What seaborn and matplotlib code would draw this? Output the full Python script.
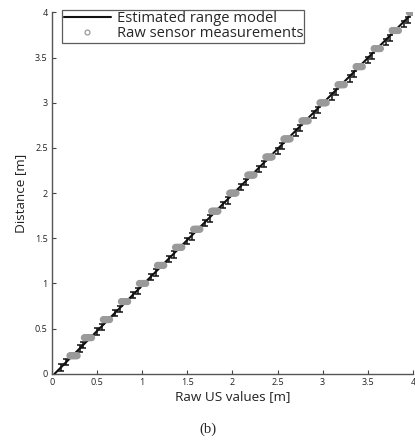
import matplotlib
matplotlib.use("Agg")
import matplotlib.pyplot as plt
import seaborn as sns
import pandas as pd
from matplotlib.lines import Line2D

# ---- data ----
distances = [0.2, 0.4, 0.6, 0.8, 1.0, 1.2, 1.4, 1.6, 1.8, 2.0,
             2.2, 2.4, 2.6, 2.8, 3.0, 3.2, 3.4, 3.6, 3.8, 4.0]
raw_readings = [
    [0.20, 0.21, 0.22, 0.23, 0.24, 0.25, 0.26, 0.27, 0.28],
    [0.36, 0.37, 0.38, 0.39, 0.40, 0.41, 0.42, 0.43, 0.44],
    [0.57, 0.58, 0.59, 0.60, 0.61, 0.62, 0.63, 0.64],
    [0.77, 0.78, 0.79, 0.80, 0.81, 0.82, 0.83, 0.84],
    [0.97, 0.98, 0.99, 1.00, 1.01, 1.02, 1.03, 1.04],
    [1.17, 1.18, 1.19, 1.20, 1.21, 1.22, 1.23, 1.24],
    [1.37, 1.38, 1.39, 1.40, 1.41, 1.42, 1.43, 1.44],
    [1.57, 1.58, 1.59, 1.60, 1.61, 1.62, 1.63, 1.64],
    [1.77, 1.78, 1.79, 1.80, 1.81, 1.82, 1.83, 1.84],
    [1.97, 1.98, 1.99, 2.00, 2.01, 2.02, 2.03, 2.04],
    [2.17, 2.18, 2.19, 2.20, 2.21, 2.22, 2.23, 2.24],
    [2.37, 2.38, 2.39, 2.40, 2.41, 2.42, 2.43, 2.44],
    [2.57, 2.58, 2.59, 2.60, 2.61, 2.62, 2.63, 2.64],
    [2.77, 2.78, 2.79, 2.80, 2.81, 2.82, 2.83, 2.84],
    [2.97, 2.98, 2.99, 3.00, 3.01, 3.02, 3.03, 3.04],
    [3.17, 3.18, 3.19, 3.20, 3.21, 3.22, 3.23, 3.24],
    [3.37, 3.38, 3.39, 3.40, 3.41, 3.42, 3.43, 3.44],
    [3.57, 3.58, 3.59, 3.60, 3.61, 3.62, 3.63, 3.64],
    [3.77, 3.78, 3.79, 3.80, 3.81, 3.82, 3.83, 3.84],
    [3.96, 3.97, 3.98, 3.99, 4.00, 4.01, 4.02, 4.03],
]
model_x = [0.03, 4.0]
model_y = [0.0, 4.0]
errbar_x = [0.10, 0.16, 0.31, 0.35, 0.50, 0.55, 0.70, 0.75, 0.90, 0.95,
            1.10, 1.15, 1.30, 1.35, 1.50, 1.55, 1.70, 1.75, 1.90, 1.95,
            2.10, 2.15, 2.30, 2.35, 2.50, 2.55, 2.70, 2.75, 2.90, 2.95,
            3.10, 3.15, 3.30, 3.35, 3.50, 3.55, 3.70, 3.75, 3.90, 3.95]
errbar_y = [0.07, 0.13, 0.28, 0.32, 0.47, 0.52, 0.67, 0.72, 0.87, 0.92,
            1.07, 1.12, 1.27, 1.32, 1.47, 1.52, 1.67, 1.72, 1.87, 1.92,
            2.07, 2.12, 2.27, 2.32, 2.47, 2.52, 2.67, 2.72, 2.87, 2.92,
            3.07, 3.12, 3.27, 3.32, 3.47, 3.52, 3.67, 3.72, 3.87, 3.92]
errbar_err = [0.035] * len(errbar_x)
xticks = [0, 0.5, 1, 1.5, 2, 2.5, 3, 3.5, 4]
xticklabels = ["0", "0.5", "1", "1.5", "2", "2.5", "3", "3.5", "4"]
yticks = xticks
yticklabels = xticklabels

rows = []
for d, vals in zip(distances, raw_readings):
    for v in vals:
        rows.append({"raw": v, "dist": d})
df = pd.DataFrame(rows)
model_df = pd.DataFrame({"x": model_x, "y": model_y})

# ---- plot ----
sns.set_style("white")
plt.rcParams["font.family"] = ["Open Sans", "DejaVu Sans"]

fig = plt.figure(figsize=(4.15, 4.45), dpi=100)
ax = fig.add_axes([0.125, 0.16, 0.87, 0.812])

ax.errorbar(errbar_x, errbar_y, yerr=errbar_err, fmt="none", ecolor="#111111",
            elinewidth=1.1, capsize=1.9, capthick=1.1, zorder=2)
sns.lineplot(data=model_df, x="x", y="y", ax=ax, color="#111111", linewidth=1.5,
             zorder=3, legend=False)
sns.scatterplot(data=df, x="raw", y="dist", ax=ax, marker="o", s=16,
                facecolor="none", edgecolor="#9a9a9a", linewidth=1.1,
                zorder=4, legend=False)

ax.set_xlim(0, 4)
ax.set_ylim(0, 4)
ax.set_xticks(xticks)
ax.set_xticklabels(xticklabels)
ax.set_yticks(yticks)
ax.set_yticklabels(yticklabels)
ax.tick_params(direction="in", length=3, width=0.8, labelsize=6.5, pad=3,
               colors="#444444", labelcolor="#222222",
               bottom=True, left=True)
for s in ["top", "right"]:
    ax.spines[s].set_visible(False)
for s in ["left", "bottom"]:
    ax.spines[s].set_color("#555555")
    ax.spines[s].set_linewidth(1.0)

ax.set_xlabel("Raw US values [m]", fontsize=9.7, labelpad=2, color="#222222")
ax.set_ylabel("Distance [m]", fontsize=9.7, labelpad=6, color="#222222")

handles = [Line2D([0], [0], color="#111111", lw=1.5),
           Line2D([0], [0], marker="o", ls="none", markerfacecolor="none",
                  markeredgecolor="#999999", markersize=3.5, markeredgewidth=0.9)]
leg = ax.legend(handles, ["Estimated range model", "Raw sensor measurements"],
                loc="upper left", bbox_to_anchor=(0.02, 1.015), fontsize=10.6,
                frameon=True, fancybox=False, handlelength=3.2,
                handletextpad=0.4, borderpad=0.1, labelspacing=0.0,
                borderaxespad=0.2)
leg.get_frame().set_edgecolor("#333333")
leg.get_frame().set_linewidth(0.9)

fig.text(0.5, 0.035, "(b)", ha="center", va="center", fontsize=10.5,
         family=["Liberation Serif", "DejaVu Serif"])

fig.savefig("out.png", dpi=100)
